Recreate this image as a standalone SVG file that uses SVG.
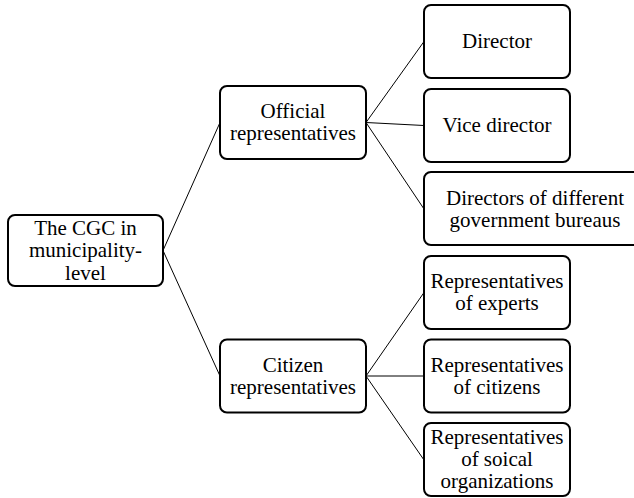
<svg xmlns="http://www.w3.org/2000/svg" width="634" height="498" viewBox="0 0 634 498">
<style>
.box{fill:#fff;stroke:#000;stroke-width:2}
.t{font-family:'Liberation Serif','Times New Roman',serif;font-size:21px;fill:#000;text-anchor:middle}
.c{stroke:#000;stroke-width:1;fill:none}
</style>
<rect width="634" height="498" fill="#fff"/>
<g id="connectors">
<line class="c" x1="163" y1="250.5" x2="220" y2="122.5"/>
<line class="c" x1="163" y1="250.5" x2="220" y2="376"/>
<line class="c" x1="366" y1="122.5" x2="424" y2="41.5"/>
<line class="c" x1="366" y1="122.5" x2="424" y2="125.5"/>
<line class="c" x1="366" y1="122.5" x2="424" y2="209"/>
<line class="c" x1="366" y1="376" x2="424" y2="292.5"/>
<line class="c" x1="366" y1="376" x2="424" y2="376"/>
<line class="c" x1="366" y1="376" x2="424" y2="460"/>
</g>
<g id="root">
<rect class="box" x="8" y="215" width="155" height="71" rx="7"/>
<text class="t" x="85.5" y="234.5">The CGC in</text>
<text class="t" x="85.5" y="257">municipality-</text>
<text class="t" x="85.5" y="279.5">level</text>
</g>
<g id="official">
<rect class="box" x="220" y="86" width="146" height="73" rx="7"/>
<text class="t" x="293" y="118">Official</text>
<text class="t" x="293" y="140">representatives</text>
</g>
<g id="citizen">
<rect class="box" x="220" y="339.5" width="146" height="73" rx="7"/>
<text class="t" x="293" y="371.5">Citizen</text>
<text class="t" x="293" y="393.5">representatives</text>
</g>
<g id="director">
<rect class="box" x="424" y="5" width="146" height="73" rx="7"/>
<text class="t" x="497" y="48">Director</text>
</g>
<g id="vice-director">
<rect class="box" x="424" y="89" width="146" height="73" rx="7"/>
<text class="t" x="497" y="132">Vice director</text>
</g>
<g id="bureau-directors">
<rect class="box" x="424" y="172" width="222" height="73" rx="7"/>
<text class="t" x="535" y="204.5">Directors of different</text>
<text class="t" x="535" y="227">government bureaus</text>
</g>
<g id="experts">
<rect class="box" x="424" y="256" width="146" height="73" rx="7"/>
<text class="t" x="497" y="288">Representatives</text>
<text class="t" x="497" y="310">of experts</text>
</g>
<g id="citizens">
<rect class="box" x="424" y="339.5" width="146" height="73" rx="7"/>
<text class="t" x="497" y="371.5">Representatives</text>
<text class="t" x="497" y="393.5">of citizens</text>
</g>
<g id="social-orgs">
<rect class="box" x="424" y="423" width="146" height="73" rx="7"/>
<text class="t" x="497" y="444">Representatives</text>
<text class="t" x="497" y="466">of soical</text>
<text class="t" x="497" y="488">organizations</text>
</g>
</svg>
